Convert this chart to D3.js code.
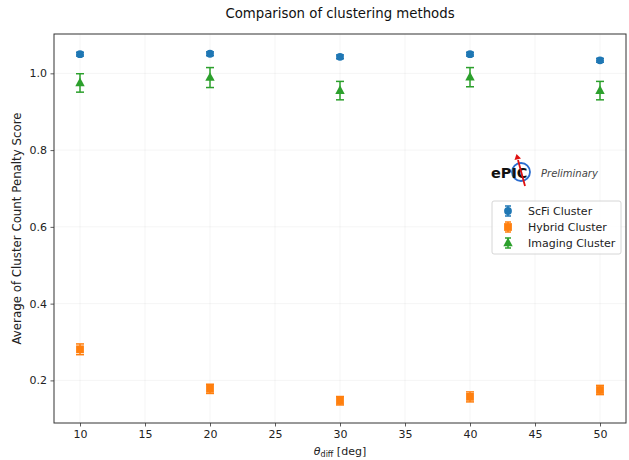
<!DOCTYPE html>
<html>
<head>
<meta charset="utf-8">
<script src="https://cdn.jsdelivr.net/npm/d3@7"></script>
<style>
  body { margin: 0; background: #fff; }
  svg { font-family: "DejaVu Sans", sans-serif; }
</style>
</head>
<body>
<svg id="plot" width="629" height="460"></svg>
<script>
var thetas = [10, 20, 30, 40, 50]
var scfiMean = [1.050, 1.051, 1.043, 1.050, 1.034]
var scfiErr = [0.005, 0.005, 0.005, 0.005, 0.005]
var hybridMean = [0.281, 0.178, 0.147, 0.157, 0.175]
var hybridErr = [0.014, 0.012, 0.011, 0.013, 0.012]
var imagingMean = [0.975, 0.989, 0.955, 0.990, 0.955]
var imagingErr = [0.024, 0.026, 0.024, 0.025, 0.024]
var xTicks = [10, 15, 20, 25, 30, 35, 40, 45, 50]
var yTicks = [0.2, 0.4, 0.6, 0.8, 1.0]

var series = [
  { name: "ScFi Cluster", mean: scfiMean, err: scfiErr, color: "#1f77b4", shape: "circle" },
  { name: "Hybrid Cluster", mean: hybridMean, err: hybridErr, color: "#ff7f0e", shape: "square" },
  { name: "Imaging Cluster", mean: imagingMean, err: imagingErr, color: "#2ca02c", shape: "triangle" }
]

var margin = { left: 54, top: 34, right: 626, bottom: 423 }
var svg = d3.select("svg#plot")

var x = d3.scaleLinear().domain([8, 52]).range([margin.left, margin.right])
var y = d3.scaleLinear().domain([0.089, 1.1025]).range([margin.bottom, margin.top])

// grid
var grid = svg.append("g")
grid.selectAll("line.gx").data(xTicks).enter().append("line")
  .attr("x1", d => x(d)).attr("x2", d => x(d))
  .attr("y1", margin.top).attr("y2", margin.bottom)
  .attr("stroke", "#000").attr("stroke-opacity", 0.06).attr("stroke-width", 0.8)
grid.selectAll("line.gy").data(yTicks).enter().append("line")
  .attr("y1", d => y(d)).attr("y2", d => y(d))
  .attr("x1", margin.left).attr("x2", margin.right)
  .attr("stroke", "#000").attr("stroke-opacity", 0.06).attr("stroke-width", 0.8)

// axes
var xAxis = svg.append("g")
  .attr("transform", "translate(0," + margin.bottom + ")")
  .call(d3.axisBottom(x).tickValues(xTicks).tickSize(3.5).tickPadding(3.5).tickFormat(d3.format("d")))
var yAxis = svg.append("g")
  .attr("transform", "translate(" + margin.left + ",0)")
  .call(d3.axisLeft(y).tickValues(yTicks).tickSize(3.5).tickPadding(3.5).tickFormat(d3.format(".1f")))
;[xAxis, yAxis].forEach(a => {
  a.select(".domain").remove()
  a.selectAll("text").attr("font-size", 11).attr("fill", "#222").attr("font-family", "DejaVu Sans")
  a.selectAll("line").attr("stroke", "#333").attr("stroke-width", 0.8)
})

svg.append("rect")
  .attr("x", margin.left).attr("y", margin.top)
  .attr("width", margin.right - margin.left).attr("height", margin.bottom - margin.top)
  .attr("fill", "none").attr("stroke", "#333").attr("stroke-width", 1)

function drawMarker(g, shape, color) {
  if (shape == "circle") {
    g.append("circle").attr("r", 3.9).attr("fill", color)
  } else if (shape == "square") {
    g.append("rect").attr("x", -3.9).attr("y", -3.9).attr("width", 7.8).attr("height", 7.8).attr("fill", color)
  } else {
    g.append("path").attr("d", "M0,-5.4L4.7,3.3L-4.7,3.3Z").attr("fill", color)
  }
}

// error bars + markers
series.forEach(s => {
  var g = svg.append("g")
  thetas.forEach((t, i) => {
    var cx = x(t)
    var y0 = y(s.mean[i] - s.err[i]), y1 = y(s.mean[i] + s.err[i])
    g.append("line").attr("x1", cx).attr("x2", cx).attr("y1", y0).attr("y2", y1)
      .attr("stroke", s.color).attr("stroke-width", 1.5)
    ;[y0, y1].forEach(yy => {
      g.append("line").attr("x1", cx - 4).attr("x2", cx + 4).attr("y1", yy).attr("y2", yy)
        .attr("stroke", s.color).attr("stroke-width", 1.5)
    })
    var m = g.append("g").attr("transform", "translate(" + cx + "," + y(s.mean[i]) + ")")
    drawMarker(m, s.shape, s.color)
  })
})

// legend
var lg = svg.append("g").attr("transform", "translate(492,201)")
lg.append("rect").attr("width", 129).attr("height", 53).attr("rx", 2)
  .attr("fill", "#fff").attr("fill-opacity", 0.8).attr("stroke", "#ccc").attr("stroke-width", 0.8)
series.forEach((s, i) => {
  var row = lg.append("g").attr("transform", "translate(16," + (10 + i * 16) + ")")
  row.append("line").attr("y1", -5).attr("y2", 5).attr("stroke", s.color).attr("stroke-width", 1.5)
  row.append("line").attr("x1", -3).attr("x2", 3).attr("y1", -5).attr("y2", -5).attr("stroke", s.color).attr("stroke-width", 1.5)
  row.append("line").attr("x1", -3).attr("x2", 3).attr("y1", 5).attr("y2", 5).attr("stroke", s.color).attr("stroke-width", 1.5)
  drawMarker(row, s.shape, s.color)
  row.append("text").attr("x", 20).attr("y", 4).attr("font-size", 11).attr("fill", "#222").text(s.name)
})

// ePIC logo
var logo = svg.append("g").attr("transform", "translate(491,178)")
logo.append("circle").attr("cx", 30).attr("cy", -6).attr("r", 9)
  .attr("fill", "none").attr("stroke", "#2a6ccf").attr("stroke-width", 1.8)
logo.append("text").attr("x", 0).attr("y", 0).attr("font-size", 14.5).attr("font-weight", "bold").attr("fill", "#111").text("ePIC")
logo.append("line").attr("x1", 27).attr("y1", -18).attr("x2", 34).attr("y2", 8)
  .attr("stroke", "#e01010").attr("stroke-width", 1.8)
logo.append("path").attr("d", "M23.5,-18L30,-19.5L25.5,-24Z").attr("fill", "#e01010")
logo.append("text").attr("x", 50).attr("y", -1).attr("font-size", 10).attr("font-style", "italic").attr("fill", "#444").text("Preliminary")

// title and labels
svg.append("text").attr("x", 340).attr("y", 18).attr("text-anchor", "middle")
  .attr("font-size", 13.3).attr("fill", "#111").text("Comparison of clustering methods")

svg.append("text").attr("transform", "translate(21," + ((margin.top + margin.bottom) / 2) + ") rotate(-90)")
  .attr("text-anchor", "middle").attr("font-size", 11.8).attr("fill", "#222")
  .text("Average of Cluster Count Penalty Score")

var xl = svg.append("text").attr("x", 340).attr("y", 455).attr("text-anchor", "middle")
  .attr("font-size", 11).attr("fill", "#222")
xl.append("tspan").attr("font-style", "italic").text("θ")
xl.append("tspan").attr("font-size", 8).attr("dy", 2).text("diff")
xl.append("tspan").attr("dy", -2).text(" [deg]")
</script>
</body>
</html>
